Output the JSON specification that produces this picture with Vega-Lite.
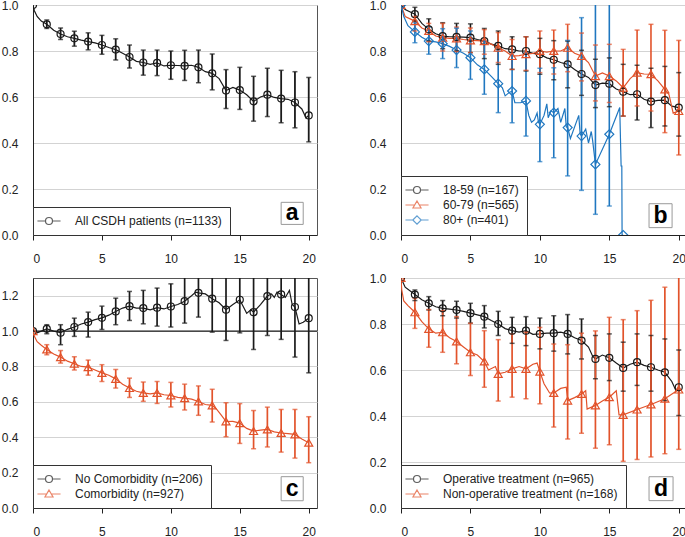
{
"$schema":"https://vega.github.io/schema/vega-lite/v6.json",
"padding":{"left":0,"top":-2,"right":0,"bottom":0},
"columns":2,
"spacing":{"row":43,"column":84},
"bounds":"flush",
"resolve":{"scale":{"color":"independent","shape":"independent","stroke":"independent"},"legend":{"color":"independent","shape":"independent","stroke":"independent"}},
"datasets":{
"A":[
{"g":"All CSDH patients (n=1133)","t":0,"v":1},
{"g":"All CSDH patients (n=1133)","t":0.1,"v":0.975},
{"g":"All CSDH patients (n=1133)","t":0.3,"v":0.95},
{"g":"All CSDH patients (n=1133)","t":0.6,"v":0.93},
{"g":"All CSDH patients (n=1133)","t":1,"v":0.916,"lo":0.898,"hi":0.935},
{"g":"All CSDH patients (n=1133)","t":1.5,"v":0.89},
{"g":"All CSDH patients (n=1133)","t":2,"v":0.874,"lo":0.85,"hi":0.9},
{"g":"All CSDH patients (n=1133)","t":2.5,"v":0.862},
{"g":"All CSDH patients (n=1133)","t":3,"v":0.855,"lo":0.821,"hi":0.886},
{"g":"All CSDH patients (n=1133)","t":3.5,"v":0.847},
{"g":"All CSDH patients (n=1133)","t":4,"v":0.841,"lo":0.805,"hi":0.879},
{"g":"All CSDH patients (n=1133)","t":4.5,"v":0.835},
{"g":"All CSDH patients (n=1133)","t":5,"v":0.826,"lo":0.786,"hi":0.868},
{"g":"All CSDH patients (n=1133)","t":5.5,"v":0.815},
{"g":"All CSDH patients (n=1133)","t":6,"v":0.806,"lo":0.761,"hi":0.853},
{"g":"All CSDH patients (n=1133)","t":6.5,"v":0.79},
{"g":"All CSDH patients (n=1133)","t":7,"v":0.774,"lo":0.726,"hi":0.826},
{"g":"All CSDH patients (n=1133)","t":7.5,"v":0.755},
{"g":"All CSDH patients (n=1133)","t":8,"v":0.75,"lo":0.695,"hi":0.804},
{"g":"All CSDH patients (n=1133)","t":8.5,"v":0.742},
{"g":"All CSDH patients (n=1133)","t":9,"v":0.748,"lo":0.693,"hi":0.804},
{"g":"All CSDH patients (n=1133)","t":9.5,"v":0.735},
{"g":"All CSDH patients (n=1133)","t":10,"v":0.738,"lo":0.677,"hi":0.8},
{"g":"All CSDH patients (n=1133)","t":10.5,"v":0.737},
{"g":"All CSDH patients (n=1133)","t":11,"v":0.735,"lo":0.672,"hi":0.803},
{"g":"All CSDH patients (n=1133)","t":11.5,"v":0.738},
{"g":"All CSDH patients (n=1133)","t":12,"v":0.729,"lo":0.662,"hi":0.804},
{"g":"All CSDH patients (n=1133)","t":12.5,"v":0.71},
{"g":"All CSDH patients (n=1133)","t":13,"v":0.703,"lo":0.631,"hi":0.787},
{"g":"All CSDH patients (n=1133)","t":13.5,"v":0.68},
{"g":"All CSDH patients (n=1133)","t":14,"v":0.628,"lo":0.55,"hi":0.719},
{"g":"All CSDH patients (n=1133)","t":14.5,"v":0.642},
{"g":"All CSDH patients (n=1133)","t":15,"v":0.63,"lo":0.546,"hi":0.729},
{"g":"All CSDH patients (n=1133)","t":15.5,"v":0.61},
{"g":"All CSDH patients (n=1133)","t":16,"v":0.581,"lo":0.495,"hi":0.69},
{"g":"All CSDH patients (n=1133)","t":16.5,"v":0.6},
{"g":"All CSDH patients (n=1133)","t":17,"v":0.61,"lo":0.515,"hi":0.725},
{"g":"All CSDH patients (n=1133)","t":17.5,"v":0.598},
{"g":"All CSDH patients (n=1133)","t":18,"v":0.593,"lo":0.488,"hi":0.716},
{"g":"All CSDH patients (n=1133)","t":18.5,"v":0.59},
{"g":"All CSDH patients (n=1133)","t":19,"v":0.576,"lo":0.466,"hi":0.71},
{"g":"All CSDH patients (n=1133)","t":19.5,"v":0.548},
{"g":"All CSDH patients (n=1133)","t":19.8,"v":0.51},
{"g":"All CSDH patients (n=1133)","t":20,"v":0.52,"lo":0.405,"hi":0.685}
],
"B":[
{"g":"18-59 (n=167)","t":0,"v":1},
{"g":"18-59 (n=167)","t":0.3,"v":0.98},
{"g":"18-59 (n=167)","t":1,"v":0.96,"lo":0.93,"hi":0.99},
{"g":"18-59 (n=167)","t":1.5,"v":0.92},
{"g":"18-59 (n=167)","t":2,"v":0.894,"lo":0.843,"hi":0.94},
{"g":"18-59 (n=167)","t":2.5,"v":0.875},
{"g":"18-59 (n=167)","t":3,"v":0.865,"lo":0.81,"hi":0.923},
{"g":"18-59 (n=167)","t":3.5,"v":0.862},
{"g":"18-59 (n=167)","t":4,"v":0.861,"lo":0.8,"hi":0.92},
{"g":"18-59 (n=167)","t":4.5,"v":0.86},
{"g":"18-59 (n=167)","t":5,"v":0.858,"lo":0.793,"hi":0.918},
{"g":"18-59 (n=167)","t":5.5,"v":0.85},
{"g":"18-59 (n=167)","t":6,"v":0.843,"lo":0.767,"hi":0.898},
{"g":"18-59 (n=167)","t":6.5,"v":0.83},
{"g":"18-59 (n=167)","t":7,"v":0.822,"lo":0.742,"hi":0.887},
{"g":"18-59 (n=167)","t":7.5,"v":0.81},
{"g":"18-59 (n=167)","t":8,"v":0.807,"lo":0.72,"hi":0.862},
{"g":"18-59 (n=167)","t":8.5,"v":0.8},
{"g":"18-59 (n=167)","t":9,"v":0.8,"lo":0.713,"hi":0.862},
{"g":"18-59 (n=167)","t":9.5,"v":0.79},
{"g":"18-59 (n=167)","t":10,"v":0.786,"lo":0.699,"hi":0.855},
{"g":"18-59 (n=167)","t":10.5,"v":0.77},
{"g":"18-59 (n=167)","t":11,"v":0.762,"lo":0.675,"hi":0.845},
{"g":"18-59 (n=167)","t":11.5,"v":0.75},
{"g":"18-59 (n=167)","t":12,"v":0.742,"lo":0.64,"hi":0.843},
{"g":"18-59 (n=167)","t":12.5,"v":0.72},
{"g":"18-59 (n=167)","t":13,"v":0.7,"lo":0.607,"hi":0.803},
{"g":"18-59 (n=167)","t":13.5,"v":0.685},
{"g":"18-59 (n=167)","t":14,"v":0.652,"lo":0.554,"hi":0.764},
{"g":"18-59 (n=167)","t":14.5,"v":0.66},
{"g":"18-59 (n=167)","t":15,"v":0.658,"lo":0.558,"hi":0.77},
{"g":"18-59 (n=167)","t":15.5,"v":0.635},
{"g":"18-59 (n=167)","t":16,"v":0.623,"lo":0.517,"hi":0.742},
{"g":"18-59 (n=167)","t":16.5,"v":0.61},
{"g":"18-59 (n=167)","t":17,"v":0.612,"lo":0.5,"hi":0.738},
{"g":"18-59 (n=167)","t":17.5,"v":0.59},
{"g":"18-59 (n=167)","t":18,"v":0.58,"lo":0.467,"hi":0.725},
{"g":"18-59 (n=167)","t":18.5,"v":0.585},
{"g":"18-59 (n=167)","t":19,"v":0.586,"lo":0.474,"hi":0.733},
{"g":"18-59 (n=167)","t":19.5,"v":0.56},
{"g":"18-59 (n=167)","t":20,"v":0.554,"lo":0.43,"hi":0.706},
{"g":"60-79 (n=565)","t":0,"v":1},
{"g":"60-79 (n=565)","t":0.3,"v":0.95},
{"g":"60-79 (n=565)","t":1,"v":0.93,"lo":0.887,"hi":0.95},
{"g":"60-79 (n=565)","t":1.5,"v":0.9},
{"g":"60-79 (n=565)","t":2,"v":0.887,"lo":0.84,"hi":0.92},
{"g":"60-79 (n=565)","t":2.5,"v":0.865},
{"g":"60-79 (n=565)","t":3,"v":0.858,"lo":0.8,"hi":0.92},
{"g":"60-79 (n=565)","t":3.5,"v":0.855},
{"g":"60-79 (n=565)","t":4,"v":0.855,"lo":0.797,"hi":0.904},
{"g":"60-79 (n=565)","t":4.5,"v":0.85},
{"g":"60-79 (n=565)","t":5,"v":0.846,"lo":0.793,"hi":0.9},
{"g":"60-79 (n=565)","t":5.5,"v":0.845},
{"g":"60-79 (n=565)","t":6,"v":0.843,"lo":0.786,"hi":0.893},
{"g":"60-79 (n=565)","t":6.5,"v":0.83},
{"g":"60-79 (n=565)","t":7,"v":0.814,"lo":0.75,"hi":0.88},
{"g":"60-79 (n=565)","t":7.5,"v":0.8},
{"g":"60-79 (n=565)","t":8,"v":0.778,"lo":0.72,"hi":0.85},
{"g":"60-79 (n=565)","t":8.5,"v":0.78},
{"g":"60-79 (n=565)","t":9,"v":0.786,"lo":0.716,"hi":0.862},
{"g":"60-79 (n=565)","t":9.5,"v":0.79},
{"g":"60-79 (n=565)","t":10,"v":0.8,"lo":0.706,"hi":0.887},
{"g":"60-79 (n=565)","t":10.5,"v":0.795},
{"g":"60-79 (n=565)","t":11,"v":0.8,"lo":0.7,"hi":0.891},
{"g":"60-79 (n=565)","t":11.5,"v":0.8},
{"g":"60-79 (n=565)","t":12,"v":0.814,"lo":0.71,"hi":0.916},
{"g":"60-79 (n=565)","t":12.5,"v":0.79},
{"g":"60-79 (n=565)","t":13,"v":0.778,"lo":0.67,"hi":0.878},
{"g":"60-79 (n=565)","t":13.5,"v":0.75},
{"g":"60-79 (n=565)","t":14,"v":0.691,"lo":0.583,"hi":0.826},
{"g":"60-79 (n=565)","t":14.5,"v":0.705},
{"g":"60-79 (n=565)","t":15,"v":0.691,"lo":0.576,"hi":0.829},
{"g":"60-79 (n=565)","t":15.5,"v":0.67},
{"g":"60-79 (n=565)","t":16,"v":0.64,"lo":0.517,"hi":0.807},
{"g":"60-79 (n=565)","t":16.5,"v":0.68},
{"g":"60-79 (n=565)","t":17,"v":0.706,"lo":0.561,"hi":0.891},
{"g":"60-79 (n=565)","t":17.5,"v":0.7},
{"g":"60-79 (n=565)","t":18,"v":0.699,"lo":0.539,"hi":0.916},
{"g":"60-79 (n=565)","t":18.5,"v":0.67},
{"g":"60-79 (n=565)","t":19,"v":0.633,"lo":0.445,"hi":0.89},
{"g":"60-79 (n=565)","t":19.3,"v":0.61},
{"g":"60-79 (n=565)","t":19.6,"v":0.53},
{"g":"60-79 (n=565)","t":20,"v":0.539,"lo":0.348,"hi":0.846},
{"g":"80+ (n=401)","t":0,"v":1},
{"g":"80+ (n=401)","t":0.2,"v":0.95},
{"g":"80+ (n=401)","t":0.5,"v":0.91},
{"g":"80+ (n=401)","t":1,"v":0.883,"lo":0.836,"hi":0.923},
{"g":"80+ (n=401)","t":1.5,"v":0.86},
{"g":"80+ (n=401)","t":2,"v":0.843,"lo":0.786,"hi":0.904},
{"g":"80+ (n=401)","t":2.5,"v":0.84},
{"g":"80+ (n=401)","t":3,"v":0.832,"lo":0.767,"hi":0.897},
{"g":"80+ (n=401)","t":3.5,"v":0.82},
{"g":"80+ (n=401)","t":4,"v":0.804,"lo":0.728,"hi":0.899},
{"g":"80+ (n=401)","t":4.5,"v":0.79},
{"g":"80+ (n=401)","t":5,"v":0.771,"lo":0.677,"hi":0.887},
{"g":"80+ (n=401)","t":5.5,"v":0.74},
{"g":"80+ (n=401)","t":6,"v":0.72,"lo":0.612,"hi":0.843},
{"g":"80+ (n=401)","t":6.5,"v":0.69},
{"g":"80+ (n=401)","t":7,"v":0.658,"lo":0.532,"hi":0.8},
{"g":"80+ (n=401)","t":7.3,"v":0.64},
{"g":"80+ (n=401)","t":7.5,"v":0.605},
{"g":"80+ (n=401)","t":7.8,"v":0.62},
{"g":"80+ (n=401)","t":8,"v":0.626,"lo":0.488,"hi":0.793},
{"g":"80+ (n=401)","t":8.2,"v":0.575},
{"g":"80+ (n=401)","t":8.6,"v":0.575},
{"g":"80+ (n=401)","t":9,"v":0.583,"lo":0.43,"hi":0.793},
{"g":"80+ (n=401)","t":9.2,"v":0.52},
{"g":"80+ (n=401)","t":9.4,"v":0.49},
{"g":"80+ (n=401)","t":9.6,"v":0.5},
{"g":"80+ (n=401)","t":9.8,"v":0.53},
{"g":"80+ (n=401)","t":9.9,"v":0.49},
{"g":"80+ (n=401)","t":10,"v":0.481,"lo":0.319,"hi":0.725},
{"g":"80+ (n=401)","t":10.3,"v":0.52},
{"g":"80+ (n=401)","t":10.5,"v":0.57},
{"g":"80+ (n=401)","t":10.6,"v":0.51},
{"g":"80+ (n=401)","t":10.8,"v":0.54},
{"g":"80+ (n=401)","t":11,"v":0.532,"lo":0.336,"hi":0.727},
{"g":"80+ (n=401)","t":11.3,"v":0.55},
{"g":"80+ (n=401)","t":11.5,"v":0.49},
{"g":"80+ (n=401)","t":11.8,"v":0.55},
{"g":"80+ (n=401)","t":11.9,"v":0.47},
{"g":"80+ (n=401)","t":12,"v":0.467,"lo":0.257,"hi":0.846},
{"g":"80+ (n=401)","t":12.2,"v":0.42},
{"g":"80+ (n=401)","t":12.8,"v":0.52},
{"g":"80+ (n=401)","t":12.9,"v":0.44},
{"g":"80+ (n=401)","t":13,"v":0.43,"lo":0.194,"hi":0.945},
{"g":"80+ (n=401)","t":13.3,"v":0.46},
{"g":"80+ (n=401)","t":13.5,"v":0.4},
{"g":"80+ (n=401)","t":13.7,"v":0.45},
{"g":"80+ (n=401)","t":13.8,"v":0.41},
{"g":"80+ (n=401)","t":14,"v":0.307,"lo":0.09,"hi":1.15},
{"g":"80+ (n=401)","t":15,"v":0.438,"lo":0.126,"hi":1.2},
{"g":"80+ (n=401)","t":15.75,"v":0.554},
{"g":"80+ (n=401)","t":15.85,"v":0.3},
{"g":"80+ (n=401)","t":15.9,"v":0.3},
{"g":"80+ (n=401)","t":15.92,"v":0},
{"g":"80+ (n=401)","t":16,"v":0}
],
"C":[
{"g":"No Comorbidity (n=206)","t":0,"v":1},
{"g":"No Comorbidity (n=206)","t":0.3,"v":0.99},
{"g":"No Comorbidity (n=206)","t":0.6,"v":1},
{"g":"No Comorbidity (n=206)","t":1,"v":1.013,"lo":0.985,"hi":1.036},
{"g":"No Comorbidity (n=206)","t":1.5,"v":1},
{"g":"No Comorbidity (n=206)","t":2,"v":0.991,"lo":0.923,"hi":1.036},
{"g":"No Comorbidity (n=206)","t":2.5,"v":1.01},
{"g":"No Comorbidity (n=206)","t":3,"v":1.023,"lo":0.97,"hi":1.073},
{"g":"No Comorbidity (n=206)","t":3.5,"v":1.04},
{"g":"No Comorbidity (n=206)","t":4,"v":1.051,"lo":0.966,"hi":1.107},
{"g":"No Comorbidity (n=206)","t":4.5,"v":1.065},
{"g":"No Comorbidity (n=206)","t":5,"v":1.075,"lo":1.009,"hi":1.141},
{"g":"No Comorbidity (n=206)","t":5.5,"v":1.09},
{"g":"No Comorbidity (n=206)","t":6,"v":1.111,"lo":1.036,"hi":1.186},
{"g":"No Comorbidity (n=206)","t":6.5,"v":1.13},
{"g":"No Comorbidity (n=206)","t":7,"v":1.141,"lo":1.06,"hi":1.224},
{"g":"No Comorbidity (n=206)","t":7.5,"v":1.13},
{"g":"No Comorbidity (n=206)","t":8,"v":1.13,"lo":1.041,"hi":1.23},
{"g":"No Comorbidity (n=206)","t":8.5,"v":1.12},
{"g":"No Comorbidity (n=206)","t":9,"v":1.132,"lo":1.028,"hi":1.243},
{"g":"No Comorbidity (n=206)","t":9.5,"v":1.125},
{"g":"No Comorbidity (n=206)","t":10,"v":1.139,"lo":1.023,"hi":1.267},
{"g":"No Comorbidity (n=206)","t":10.5,"v":1.15},
{"g":"No Comorbidity (n=206)","t":11,"v":1.169,"lo":1.045,"hi":1.33},
{"g":"No Comorbidity (n=206)","t":11.5,"v":1.2},
{"g":"No Comorbidity (n=206)","t":11.8,"v":1.22},
{"g":"No Comorbidity (n=206)","t":12,"v":1.216,"lo":1.079,"hi":1.37},
{"g":"No Comorbidity (n=206)","t":12.5,"v":1.21},
{"g":"No Comorbidity (n=206)","t":13,"v":1.183,"lo":0.994,"hi":1.4},
{"g":"No Comorbidity (n=206)","t":13.5,"v":1.16},
{"g":"No Comorbidity (n=206)","t":14,"v":1.121,"lo":0.947,"hi":1.33},
{"g":"No Comorbidity (n=206)","t":14.5,"v":1.15},
{"g":"No Comorbidity (n=206)","t":15,"v":1.177,"lo":0.99,"hi":1.4},
{"g":"No Comorbidity (n=206)","t":15.5,"v":1.1},
{"g":"No Comorbidity (n=206)","t":15.8,"v":1.12},
{"g":"No Comorbidity (n=206)","t":16,"v":1.107,"lo":0.896,"hi":1.36},
{"g":"No Comorbidity (n=206)","t":16.5,"v":1.15},
{"g":"No Comorbidity (n=206)","t":17,"v":1.198,"lo":0.975,"hi":1.46},
{"g":"No Comorbidity (n=206)","t":17.3,"v":1.21},
{"g":"No Comorbidity (n=206)","t":17.5,"v":1.19},
{"g":"No Comorbidity (n=206)","t":17.7,"v":1.22},
{"g":"No Comorbidity (n=206)","t":18,"v":1.207,"lo":0.953,"hi":1.5},
{"g":"No Comorbidity (n=206)","t":18.3,"v":1.19},
{"g":"No Comorbidity (n=206)","t":18.6,"v":1.23},
{"g":"No Comorbidity (n=206)","t":18.8,"v":1.15},
{"g":"No Comorbidity (n=206)","t":19,"v":1.136,"lo":0.853,"hi":1.48},
{"g":"No Comorbidity (n=206)","t":19.3,"v":1.04},
{"g":"No Comorbidity (n=206)","t":19.6,"v":1.05},
{"g":"No Comorbidity (n=206)","t":20,"v":1.073,"lo":0.764,"hi":1.45},
{"g":"Comorbidity (n=927)","t":0,"v":1},
{"g":"Comorbidity (n=927)","t":0.1,"v":0.97},
{"g":"Comorbidity (n=927)","t":0.3,"v":0.94},
{"g":"Comorbidity (n=927)","t":0.6,"v":0.92},
{"g":"Comorbidity (n=927)","t":1,"v":0.896,"lo":0.866,"hi":0.923},
{"g":"Comorbidity (n=927)","t":1.5,"v":0.87},
{"g":"Comorbidity (n=927)","t":2,"v":0.853,"lo":0.819,"hi":0.89},
{"g":"Comorbidity (n=927)","t":2.5,"v":0.83},
{"g":"Comorbidity (n=927)","t":3,"v":0.815,"lo":0.78,"hi":0.855},
{"g":"Comorbidity (n=927)","t":3.5,"v":0.8},
{"g":"Comorbidity (n=927)","t":4,"v":0.796,"lo":0.751,"hi":0.836},
{"g":"Comorbidity (n=927)","t":4.5,"v":0.78},
{"g":"Comorbidity (n=927)","t":5,"v":0.764,"lo":0.715,"hi":0.81},
{"g":"Comorbidity (n=927)","t":5.5,"v":0.75},
{"g":"Comorbidity (n=927)","t":6,"v":0.73,"lo":0.678,"hi":0.783},
{"g":"Comorbidity (n=927)","t":6.5,"v":0.7},
{"g":"Comorbidity (n=927)","t":7,"v":0.678,"lo":0.625,"hi":0.734},
{"g":"Comorbidity (n=927)","t":7.5,"v":0.66},
{"g":"Comorbidity (n=927)","t":8,"v":0.651,"lo":0.603,"hi":0.712},
{"g":"Comorbidity (n=927)","t":8.5,"v":0.645},
{"g":"Comorbidity (n=927)","t":9,"v":0.651,"lo":0.591,"hi":0.715},
{"g":"Comorbidity (n=927)","t":9.5,"v":0.64},
{"g":"Comorbidity (n=927)","t":10,"v":0.636,"lo":0.571,"hi":0.71},
{"g":"Comorbidity (n=927)","t":10.5,"v":0.625},
{"g":"Comorbidity (n=927)","t":11,"v":0.621,"lo":0.554,"hi":0.7},
{"g":"Comorbidity (n=927)","t":11.5,"v":0.615},
{"g":"Comorbidity (n=927)","t":12,"v":0.602,"lo":0.524,"hi":0.69},
{"g":"Comorbidity (n=927)","t":12.5,"v":0.585},
{"g":"Comorbidity (n=927)","t":13,"v":0.58,"lo":0.486,"hi":0.671},
{"g":"Comorbidity (n=927)","t":13.3,"v":0.56},
{"g":"Comorbidity (n=927)","t":13.6,"v":0.53},
{"g":"Comorbidity (n=927)","t":14,"v":0.489,"lo":0.403,"hi":0.595},
{"g":"Comorbidity (n=927)","t":14.5,"v":0.49},
{"g":"Comorbidity (n=927)","t":15,"v":0.48,"lo":0.365,"hi":0.59},
{"g":"Comorbidity (n=927)","t":15.5,"v":0.45},
{"g":"Comorbidity (n=927)","t":16,"v":0.435,"lo":0.335,"hi":0.551},
{"g":"Comorbidity (n=927)","t":16.5,"v":0.44},
{"g":"Comorbidity (n=927)","t":17,"v":0.444,"lo":0.345,"hi":0.57},
{"g":"Comorbidity (n=927)","t":17.5,"v":0.43},
{"g":"Comorbidity (n=927)","t":18,"v":0.424,"lo":0.316,"hi":0.557},
{"g":"Comorbidity (n=927)","t":18.5,"v":0.42},
{"g":"Comorbidity (n=927)","t":19,"v":0.416,"lo":0.282,"hi":0.557},
{"g":"Comorbidity (n=927)","t":19.5,"v":0.39},
{"g":"Comorbidity (n=927)","t":20,"v":0.369,"lo":0.256,"hi":0.516}
],
"D":[
{"g":"Operative treatment (n=965)","t":0,"v":1},
{"g":"Operative treatment (n=965)","t":0.3,"v":0.96},
{"g":"Operative treatment (n=965)","t":1,"v":0.928,"lo":0.902,"hi":0.948},
{"g":"Operative treatment (n=965)","t":1.5,"v":0.905},
{"g":"Operative treatment (n=965)","t":2,"v":0.89,"lo":0.861,"hi":0.919},
{"g":"Operative treatment (n=965)","t":2.5,"v":0.875},
{"g":"Operative treatment (n=965)","t":3,"v":0.868,"lo":0.836,"hi":0.902},
{"g":"Operative treatment (n=965)","t":3.5,"v":0.865},
{"g":"Operative treatment (n=965)","t":4,"v":0.861,"lo":0.826,"hi":0.899},
{"g":"Operative treatment (n=965)","t":4.5,"v":0.855},
{"g":"Operative treatment (n=965)","t":5,"v":0.847,"lo":0.804,"hi":0.89},
{"g":"Operative treatment (n=965)","t":5.5,"v":0.84},
{"g":"Operative treatment (n=965)","t":6,"v":0.832,"lo":0.783,"hi":0.88},
{"g":"Operative treatment (n=965)","t":6.5,"v":0.815},
{"g":"Operative treatment (n=965)","t":7,"v":0.8,"lo":0.75,"hi":0.855},
{"g":"Operative treatment (n=965)","t":7.5,"v":0.78},
{"g":"Operative treatment (n=965)","t":8,"v":0.771,"lo":0.716,"hi":0.829},
{"g":"Operative treatment (n=965)","t":8.5,"v":0.765},
{"g":"Operative treatment (n=965)","t":9,"v":0.771,"lo":0.706,"hi":0.832},
{"g":"Operative treatment (n=965)","t":9.5,"v":0.755},
{"g":"Operative treatment (n=965)","t":10,"v":0.757,"lo":0.692,"hi":0.826},
{"g":"Operative treatment (n=965)","t":10.5,"v":0.76},
{"g":"Operative treatment (n=965)","t":11,"v":0.76,"lo":0.682,"hi":0.836},
{"g":"Operative treatment (n=965)","t":11.5,"v":0.765},
{"g":"Operative treatment (n=965)","t":12,"v":0.757,"lo":0.67,"hi":0.841},
{"g":"Operative treatment (n=965)","t":12.5,"v":0.74},
{"g":"Operative treatment (n=965)","t":13,"v":0.728,"lo":0.648,"hi":0.822},
{"g":"Operative treatment (n=965)","t":13.5,"v":0.7},
{"g":"Operative treatment (n=965)","t":13.8,"v":0.66},
{"g":"Operative treatment (n=965)","t":14,"v":0.648,"lo":0.562,"hi":0.75},
{"g":"Operative treatment (n=965)","t":14.5,"v":0.665},
{"g":"Operative treatment (n=965)","t":15,"v":0.653,"lo":0.554,"hi":0.757},
{"g":"Operative treatment (n=965)","t":15.5,"v":0.63},
{"g":"Operative treatment (n=965)","t":16,"v":0.609,"lo":0.508,"hi":0.721},
{"g":"Operative treatment (n=965)","t":16.5,"v":0.625},
{"g":"Operative treatment (n=965)","t":17,"v":0.634,"lo":0.533,"hi":0.757},
{"g":"Operative treatment (n=965)","t":17.5,"v":0.62},
{"g":"Operative treatment (n=965)","t":18,"v":0.612,"lo":0.508,"hi":0.75},
{"g":"Operative treatment (n=965)","t":18.5,"v":0.6},
{"g":"Operative treatment (n=965)","t":19,"v":0.59,"lo":0.467,"hi":0.735},
{"g":"Operative treatment (n=965)","t":19.5,"v":0.55},
{"g":"Operative treatment (n=965)","t":19.8,"v":0.51},
{"g":"Operative treatment (n=965)","t":20,"v":0.525,"lo":0.402,"hi":0.687},
{"g":"Non-operative treatment (n=168)","t":0,"v":1},
{"g":"Non-operative treatment (n=168)","t":0.05,"v":0.95},
{"g":"Non-operative treatment (n=168)","t":0.2,"v":0.9},
{"g":"Non-operative treatment (n=168)","t":0.5,"v":0.88},
{"g":"Non-operative treatment (n=168)","t":1,"v":0.851,"lo":0.781,"hi":0.912},
{"g":"Non-operative treatment (n=168)","t":1.5,"v":0.81},
{"g":"Non-operative treatment (n=168)","t":2,"v":0.779,"lo":0.699,"hi":0.863},
{"g":"Non-operative treatment (n=168)","t":2.5,"v":0.76},
{"g":"Non-operative treatment (n=168)","t":3,"v":0.764,"lo":0.677,"hi":0.858},
{"g":"Non-operative treatment (n=168)","t":3.5,"v":0.74},
{"g":"Non-operative treatment (n=168)","t":4,"v":0.724,"lo":0.627,"hi":0.832},
{"g":"Non-operative treatment (n=168)","t":4.5,"v":0.7},
{"g":"Non-operative treatment (n=168)","t":5,"v":0.677,"lo":0.576,"hi":0.803},
{"g":"Non-operative treatment (n=168)","t":5.5,"v":0.665},
{"g":"Non-operative treatment (n=168)","t":6,"v":0.637,"lo":0.525,"hi":0.771},
{"g":"Non-operative treatment (n=168)","t":6.3,"v":0.6},
{"g":"Non-operative treatment (n=168)","t":6.8,"v":0.615},
{"g":"Non-operative treatment (n=168)","t":7,"v":0.583,"lo":0.465,"hi":0.732},
{"g":"Non-operative treatment (n=168)","t":7.5,"v":0.59},
{"g":"Non-operative treatment (n=168)","t":8,"v":0.605,"lo":0.482,"hi":0.757},
{"g":"Non-operative treatment (n=168)","t":8.5,"v":0.615},
{"g":"Non-operative treatment (n=168)","t":9,"v":0.605,"lo":0.475,"hi":0.764},
{"g":"Non-operative treatment (n=168)","t":9.5,"v":0.625},
{"g":"Non-operative treatment (n=168)","t":9.8,"v":0.63},
{"g":"Non-operative treatment (n=168)","t":10,"v":0.593,"lo":0.453,"hi":0.785},
{"g":"Non-operative treatment (n=168)","t":10.3,"v":0.54},
{"g":"Non-operative treatment (n=168)","t":10.7,"v":0.5},
{"g":"Non-operative treatment (n=168)","t":11,"v":0.5,"lo":0.352,"hi":0.713},
{"g":"Non-operative treatment (n=168)","t":11.5,"v":0.52},
{"g":"Non-operative treatment (n=168)","t":11.9,"v":0.525},
{"g":"Non-operative treatment (n=168)","t":12,"v":0.467,"lo":0.3,"hi":0.71},
{"g":"Non-operative treatment (n=168)","t":12.5,"v":0.48},
{"g":"Non-operative treatment (n=168)","t":13,"v":0.496,"lo":0.325,"hi":0.76},
{"g":"Non-operative treatment (n=168)","t":13.3,"v":0.51},
{"g":"Non-operative treatment (n=168)","t":13.4,"v":0.43},
{"g":"Non-operative treatment (n=168)","t":14,"v":0.446,"lo":0.26,"hi":0.77},
{"g":"Non-operative treatment (n=168)","t":14.5,"v":0.465},
{"g":"Non-operative treatment (n=168)","t":15,"v":0.482,"lo":0.275,"hi":0.829},
{"g":"Non-operative treatment (n=168)","t":15.5,"v":0.51},
{"g":"Non-operative treatment (n=168)","t":15.7,"v":0.405},
{"g":"Non-operative treatment (n=168)","t":16,"v":0.405,"lo":0.203,"hi":0.819},
{"g":"Non-operative treatment (n=168)","t":17,"v":0.428,"lo":0.211,"hi":0.858},
{"g":"Non-operative treatment (n=168)","t":18,"v":0.45,"lo":0.222,"hi":0.903},
{"g":"Non-operative treatment (n=168)","t":19,"v":0.475,"lo":0.236,"hi":0.96},
{"g":"Non-operative treatment (n=168)","t":20,"v":0.515,"lo":0.255,"hi":1.2}
]
},
"concat":[
{
"width":284,"height":230,"data":{"name":"A"},
"layer":[
{"mark":{"type":"line","strokeWidth":1.2,"clip":true,"color":"#1a1a1a"},"encoding":{
"x":{"field":"t","type":"quantitative","title":null,"scale":{"domain":[0,20.6],"nice":false,"zero":false},"axis":{"values":[0,5,10,15,20]}},
"y":{"field":"v","type":"quantitative","title":null,"scale":{"domain":[0,1],"nice":false},"axis":{"values":[0,0.2,0.4,0.6,0.8,1],"format":".1f"}}}},
{"transform":[{"filter":"isValid(datum.lo)"}],"mark":{"type":"rule","strokeWidth":1.8,"clip":true,"color":"#1a1a1a"},"encoding":{"x":{"field":"t","type":"quantitative","title":null},"y":{"field":"lo","type":"quantitative","title":null},"y2":{"field":"hi"}}},
{"transform":[{"filter":"isValid(datum.lo)"}],"mark":{"type":"tick","orient":"horizontal","size":5,"thickness":1.5,"clip":true,"color":"#1a1a1a"},"encoding":{"x":{"field":"t","type":"quantitative","title":null},"y":{"field":"lo","type":"quantitative","title":null}}},
{"transform":[{"filter":"isValid(datum.lo)"}],"mark":{"type":"tick","orient":"horizontal","size":5,"thickness":1.5,"clip":true,"color":"#1a1a1a"},"encoding":{"x":{"field":"t","type":"quantitative","title":null},"y":{"field":"hi","type":"quantitative","title":null}}},
{"transform":[{"filter":"datum.t % 1 == 0"}],"mark":{"type":"point","shape":"circle","size":49,"filled":false,"strokeWidth":1.2,"clip":true,"opacity":1,"color":"#1a1a1a"},"encoding":{
"x":{"field":"t","type":"quantitative","title":null},"y":{"field":"v","type":"quantitative","title":null}}},
{"transform":[{"filter":"datum.t == 0"}],"mark":{"type":"point","filled":false,"strokeWidth":1.2,"size":0,"clip":true},"encoding":{
"x":{"field":"t","type":"quantitative","title":null},"y":{"field":"v","type":"quantitative","title":null},
"stroke":{"field":"g","type":"nominal","scale":{"domain":["All CSDH patients (n=1133)"],"range":["#1a1a1a"]},"legend":{"title":null,"orient":"bottom-left","offset":0,"padding":8,"rowPadding":2,"fillColor":"white","strokeColor":"#333","symbolSize":49,"symbolStrokeWidth":1.2,"symbolOffset":2,"labelOffset":20,"labelFontSize":12,"labelColor":"#222","labelLimit":400}},
"shape":{"field":"g","type":"nominal","scale":{"domain":["All CSDH patients (n=1133)"],"range":["M-3.3,0H-1M1,0H3.3M1,0A1,1,0,1,1,-1,0A1,1,0,1,1,1,0Z"]},"legend":{"title":null,"orient":"bottom-left","offset":0,"padding":8,"rowPadding":2,"fillColor":"white","strokeColor":"#333","symbolSize":49,"symbolStrokeWidth":1.2,"symbolOffset":2,"labelOffset":20,"labelFontSize":12,"labelColor":"#222","labelLimit":400}}}},
{"data":{"values":[{"lbl":"a"}]},"mark":{"type":"rect","fill":"white","stroke":"#999","strokeWidth":1},"encoding":{"x":{"datum":18.0},"x2":{"datum":19.6},"y":{"datum":0.046},"y2":{"datum":0.142}}},
{"data":{"values":[{"lbl":"a"}]},"mark":{"type":"text","fontSize":23,"fontWeight":"bold","align":"center","baseline":"middle","color":"#000"},"encoding":{"x":{"datum":18.8},"y":{"datum":0.094},"text":{"field":"lbl"}}}
]
},
{
"width":284,"height":230,"data":{"name":"B"},
"layer":[
{"mark":{"type":"line","strokeWidth":1.2,"clip":true},"encoding":{
"x":{"field":"t","type":"quantitative","title":null,"scale":{"domain":[0,20.45],"nice":false,"zero":false},"axis":{"values":[0,5,10,15,20]}},
"y":{"field":"v","type":"quantitative","title":null,"scale":{"domain":[0,1],"nice":false},"axis":{"values":[0,0.2,0.4,0.6,0.8,1],"format":".1f"}},
"color":{"field":"g","type":"nominal","scale":{"domain":["80+ (n=401)","60-79 (n=565)","18-59 (n=167)"],"range":["#1f77c0","#e2532b","#1a1a1a"]},"legend":null}}},
{"transform":[{"filter":"isValid(datum.lo)"}],"mark":{"type":"rule","strokeWidth":1.6,"clip":true},"encoding":{"x":{"field":"t","type":"quantitative","title":null},"y":{"field":"lo","type":"quantitative","title":null},"y2":{"field":"hi"},"color":{"field":"g","type":"nominal","legend":null}}},
{"transform":[{"filter":"isValid(datum.lo)"}],"mark":{"type":"tick","orient":"horizontal","size":5,"thickness":1.5,"clip":true},"encoding":{"x":{"field":"t","type":"quantitative","title":null},"y":{"field":"lo","type":"quantitative","title":null},"color":{"field":"g","type":"nominal","legend":null}}},
{"transform":[{"filter":"isValid(datum.lo)"}],"mark":{"type":"tick","orient":"horizontal","size":5,"thickness":1.5,"clip":true},"encoding":{"x":{"field":"t","type":"quantitative","title":null},"y":{"field":"hi","type":"quantitative","title":null},"color":{"field":"g","type":"nominal","legend":null}}},
{"transform":[{"filter":"datum.t % 1 == 0 && datum.g == '18-59 (n=167)'"}],"mark":{"type":"point","shape":"circle","size":49,"filled":false,"strokeWidth":1.2,"clip":true,"opacity":1},"encoding":{
"x":{"field":"t","type":"quantitative","title":null},"y":{"field":"v","type":"quantitative","title":null},"color":{"field":"g","type":"nominal","legend":null}}},
{"transform":[{"filter":"datum.t % 1 == 0 && datum.g == '60-79 (n=565)'"}],"mark":{"type":"point","shape":"triangle-up","size":64,"filled":false,"strokeWidth":1.2,"clip":true,"opacity":1},"encoding":{
"x":{"field":"t","type":"quantitative","title":null},"y":{"field":"v","type":"quantitative","title":null},"color":{"field":"g","type":"nominal","legend":null}}},
{"transform":[{"filter":"datum.t % 1 == 0 && datum.g == '80+ (n=401)'"}],"mark":{"type":"point","shape":"diamond","size":81,"filled":false,"strokeWidth":1.2,"clip":true,"opacity":1},"encoding":{
"x":{"field":"t","type":"quantitative","title":null},"y":{"field":"v","type":"quantitative","title":null},"color":{"field":"g","type":"nominal","legend":null}}},
{"transform":[{"filter":"datum.t == 0"}],"mark":{"type":"point","filled":false,"strokeWidth":1.2,"size":0,"clip":true},"encoding":{
"x":{"field":"t","type":"quantitative","title":null},"y":{"field":"v","type":"quantitative","title":null},
"stroke":{"field":"g","type":"nominal","scale":{"domain":["18-59 (n=167)","60-79 (n=565)","80+ (n=401)"],"range":["#1a1a1a","#e2532b","#1f77c0"]},"legend":{"title":null,"orient":"bottom-left","offset":0,"padding":8,"rowPadding":2,"fillColor":"white","strokeColor":"#333","symbolSize":49,"symbolStrokeWidth":1.2,"symbolOffset":2,"labelOffset":20,"labelFontSize":12,"labelColor":"#222","labelLimit":400}},
"shape":{"field":"g","type":"nominal","scale":{"domain":["18-59 (n=167)","60-79 (n=565)","80+ (n=401)"],"range":["M-3.3,0H-1M1,0H3.3M1,0A1,1,0,1,1,-1,0A1,1,0,1,1,1,0Z","M-3.3,0H-0.66M0.66,0H3.3M0,-1.15L1.15,0.85L-1.15,0.85Z","M-3.3,0H-1.2M1.2,0H3.3M0,-1.2L1.2,0L0,1.2L-1.2,0Z"]},"legend":{"title":null,"orient":"bottom-left","offset":0,"padding":8,"rowPadding":2,"fillColor":"white","strokeColor":"#333","symbolSize":49,"symbolStrokeWidth":1.2,"symbolOffset":2,"labelOffset":20,"labelFontSize":12,"labelColor":"#222","labelLimit":400}}}},
{"data":{"values":[{"lbl":"b"}]},"mark":{"type":"rect","fill":"white","stroke":"#999","strokeWidth":1},"encoding":{"x":{"datum":17.86},"x2":{"datum":19.52},"y":{"datum":0.032},"y2":{"datum":0.136}}},
{"data":{"values":[{"lbl":"b"}]},"mark":{"type":"text","fontSize":23,"fontWeight":"bold","align":"center","baseline":"middle","color":"#000"},"encoding":{"x":{"datum":18.69},"y":{"datum":0.084},"text":{"field":"lbl"}}}
]
},
{
"width":284,"height":230,"data":{"name":"C"},
"layer":[
{"mark":{"type":"line","strokeWidth":1.2,"clip":true},"encoding":{
"x":{"field":"t","type":"quantitative","title":null,"scale":{"domain":[0,20.6],"nice":false,"zero":false},"axis":{"values":[0,5,10,15,20]}},
"y":{"field":"v","type":"quantitative","title":null,"scale":{"domain":[0,1.3],"nice":false},"axis":{"tickCount":7,"format":".1f","labelOverlap":false}},
"color":{"field":"g","type":"nominal","scale":{"domain":["Comorbidity (n=927)","No Comorbidity (n=206)"],"range":["#e2532b","#1a1a1a"]},"legend":null}}},
{"data":{"values":[{"lbl":"c"}]},"mark":{"type":"rule","color":"#1a1a1a","strokeWidth":1.2},"encoding":{"y":{"datum":1,"type":"quantitative","title":null}}},
{"transform":[{"filter":"isValid(datum.lo)"}],"mark":{"type":"rule","strokeWidth":1.7,"clip":true},"encoding":{"x":{"field":"t","type":"quantitative","title":null},"y":{"field":"lo","type":"quantitative","title":null},"y2":{"field":"hi"},"color":{"field":"g","type":"nominal","legend":null}}},
{"transform":[{"filter":"isValid(datum.lo)"}],"mark":{"type":"tick","orient":"horizontal","size":5,"thickness":1.5,"clip":true},"encoding":{"x":{"field":"t","type":"quantitative","title":null},"y":{"field":"lo","type":"quantitative","title":null},"color":{"field":"g","type":"nominal","legend":null}}},
{"transform":[{"filter":"isValid(datum.lo)"}],"mark":{"type":"tick","orient":"horizontal","size":5,"thickness":1.5,"clip":true},"encoding":{"x":{"field":"t","type":"quantitative","title":null},"y":{"field":"hi","type":"quantitative","title":null},"color":{"field":"g","type":"nominal","legend":null}}},
{"transform":[{"filter":"datum.t % 1 == 0 && datum.g == 'No Comorbidity (n=206)'"}],"mark":{"type":"point","shape":"circle","size":49,"filled":false,"strokeWidth":1.2,"clip":true,"opacity":1},"encoding":{
"x":{"field":"t","type":"quantitative","title":null},"y":{"field":"v","type":"quantitative","title":null},"color":{"field":"g","type":"nominal","legend":null}}},
{"transform":[{"filter":"datum.t % 1 == 0 && datum.g == 'Comorbidity (n=927)'"}],"mark":{"type":"point","shape":"triangle-up","size":64,"filled":false,"strokeWidth":1.2,"clip":true,"opacity":1},"encoding":{
"x":{"field":"t","type":"quantitative","title":null},"y":{"field":"v","type":"quantitative","title":null},"color":{"field":"g","type":"nominal","legend":null}}},
{"transform":[{"filter":"datum.t == 0"}],"mark":{"type":"point","filled":false,"strokeWidth":1.2,"size":0,"clip":true},"encoding":{
"x":{"field":"t","type":"quantitative","title":null},"y":{"field":"v","type":"quantitative","title":null},
"stroke":{"field":"g","type":"nominal","scale":{"domain":["No Comorbidity (n=206)","Comorbidity (n=927)"],"range":["#1a1a1a","#e2532b"]},"legend":{"title":null,"orient":"bottom-left","offset":0,"padding":8,"rowPadding":2,"fillColor":"white","strokeColor":"#333","symbolSize":49,"symbolStrokeWidth":1.2,"symbolOffset":2,"labelOffset":20,"labelFontSize":12,"labelColor":"#222","labelLimit":400}},
"shape":{"field":"g","type":"nominal","scale":{"domain":["No Comorbidity (n=206)","Comorbidity (n=927)"],"range":["M-3.3,0H-1M1,0H3.3M1,0A1,1,0,1,1,-1,0A1,1,0,1,1,1,0Z","M-3.3,0H-0.66M0.66,0H3.3M0,-1.15L1.15,0.85L-1.15,0.85Z"]},"legend":{"title":null,"orient":"bottom-left","offset":0,"padding":8,"rowPadding":2,"fillColor":"white","strokeColor":"#333","symbolSize":49,"symbolStrokeWidth":1.2,"symbolOffset":2,"labelOffset":20,"labelFontSize":12,"labelColor":"#222","labelLimit":400}}}},
{"data":{"values":[{"lbl":"c"}]},"mark":{"type":"rect","fill":"white","stroke":"#999","strokeWidth":1},"encoding":{"x":{"datum":18.0},"x2":{"datum":19.6},"y":{"datum":0.041},"y2":{"datum":0.177}}},
{"data":{"values":[{"lbl":"c"}]},"mark":{"type":"text","fontSize":23,"fontWeight":"bold","align":"center","baseline":"middle","color":"#000"},"encoding":{"x":{"datum":18.8},"y":{"datum":0.109},"text":{"field":"lbl"}}}
]
},
{
"width":284,"height":230,"data":{"name":"D"},
"layer":[
{"mark":{"type":"line","strokeWidth":1.2,"clip":true},"encoding":{
"x":{"field":"t","type":"quantitative","title":null,"scale":{"domain":[0,20.45],"nice":false,"zero":false},"axis":{"values":[0,5,10,15,20]}},
"y":{"field":"v","type":"quantitative","title":null,"scale":{"domain":[0,1],"nice":false},"axis":{"values":[0,0.2,0.4,0.6,0.8,1],"format":".1f"}},
"color":{"field":"g","type":"nominal","scale":{"domain":["Non-operative treatment (n=168)","Operative treatment (n=965)"],"range":["#e2532b","#1a1a1a"]},"legend":null}}},
{"transform":[{"filter":"isValid(datum.lo)"}],"mark":{"type":"rule","strokeWidth":1.7,"clip":true},"encoding":{"x":{"field":"t","type":"quantitative","title":null},"y":{"field":"lo","type":"quantitative","title":null},"y2":{"field":"hi"},"color":{"field":"g","type":"nominal","legend":null}}},
{"transform":[{"filter":"isValid(datum.lo)"}],"mark":{"type":"tick","orient":"horizontal","size":5,"thickness":1.5,"clip":true},"encoding":{"x":{"field":"t","type":"quantitative","title":null},"y":{"field":"lo","type":"quantitative","title":null},"color":{"field":"g","type":"nominal","legend":null}}},
{"transform":[{"filter":"isValid(datum.lo)"}],"mark":{"type":"tick","orient":"horizontal","size":5,"thickness":1.5,"clip":true},"encoding":{"x":{"field":"t","type":"quantitative","title":null},"y":{"field":"hi","type":"quantitative","title":null},"color":{"field":"g","type":"nominal","legend":null}}},
{"transform":[{"filter":"datum.t % 1 == 0 && datum.g == 'Operative treatment (n=965)'"}],"mark":{"type":"point","shape":"circle","size":49,"filled":false,"strokeWidth":1.2,"clip":true,"opacity":1},"encoding":{
"x":{"field":"t","type":"quantitative","title":null},"y":{"field":"v","type":"quantitative","title":null},"color":{"field":"g","type":"nominal","legend":null}}},
{"transform":[{"filter":"datum.t % 1 == 0 && datum.g == 'Non-operative treatment (n=168)'"}],"mark":{"type":"point","shape":"triangle-up","size":64,"filled":false,"strokeWidth":1.2,"clip":true,"opacity":1},"encoding":{
"x":{"field":"t","type":"quantitative","title":null},"y":{"field":"v","type":"quantitative","title":null},"color":{"field":"g","type":"nominal","legend":null}}},
{"transform":[{"filter":"datum.t == 0"}],"mark":{"type":"point","filled":false,"strokeWidth":1.2,"size":0,"clip":true},"encoding":{
"x":{"field":"t","type":"quantitative","title":null},"y":{"field":"v","type":"quantitative","title":null},
"stroke":{"field":"g","type":"nominal","scale":{"domain":["Operative treatment (n=965)","Non-operative treatment (n=168)"],"range":["#1a1a1a","#e2532b"]},"legend":{"title":null,"orient":"bottom-left","offset":0,"padding":8,"rowPadding":2,"fillColor":"white","strokeColor":"#333","symbolSize":49,"symbolStrokeWidth":1.2,"symbolOffset":2,"labelOffset":20,"labelFontSize":12,"labelColor":"#222","labelLimit":400}},
"shape":{"field":"g","type":"nominal","scale":{"domain":["Operative treatment (n=965)","Non-operative treatment (n=168)"],"range":["M-3.3,0H-1M1,0H3.3M1,0A1,1,0,1,1,-1,0A1,1,0,1,1,1,0Z","M-3.3,0H-0.66M0.66,0H3.3M0,-1.15L1.15,0.85L-1.15,0.85Z"]},"legend":{"title":null,"orient":"bottom-left","offset":0,"padding":8,"rowPadding":2,"fillColor":"white","strokeColor":"#333","symbolSize":49,"symbolStrokeWidth":1.2,"symbolOffset":2,"labelOffset":20,"labelFontSize":12,"labelColor":"#222","labelLimit":400}}}},
{"data":{"values":[{"lbl":"d"}]},"mark":{"type":"rect","fill":"white","stroke":"#999","strokeWidth":1},"encoding":{"x":{"datum":17.86},"x2":{"datum":19.59},"y":{"datum":0.032},"y2":{"datum":0.136}}},
{"data":{"values":[{"lbl":"d"}]},"mark":{"type":"text","fontSize":23,"fontWeight":"bold","align":"center","baseline":"middle","color":"#000"},"encoding":{"x":{"datum":18.72},"y":{"datum":0.084},"text":{"field":"lbl"}}}
]
}
],
"config":{
"font":"Liberation Sans",
"view":{"stroke":"#555","strokeWidth":1},
"axis":{"labelFontSize":12,"labelColor":"#222","labelFont":"Liberation Sans","domainColor":"#222","domainWidth":1,"tickColor":"#222"},
"axisX":{"grid":false,"tickSize":5,"labelPadding":13},
"axisY":{"ticks":false,"tickSize":0,"labelPadding":15,"labelOverlap":false,"gridColor":"#d3d3d3","gridWidth":1},
"legend":{"labelFont":"Liberation Sans"}
}
}
